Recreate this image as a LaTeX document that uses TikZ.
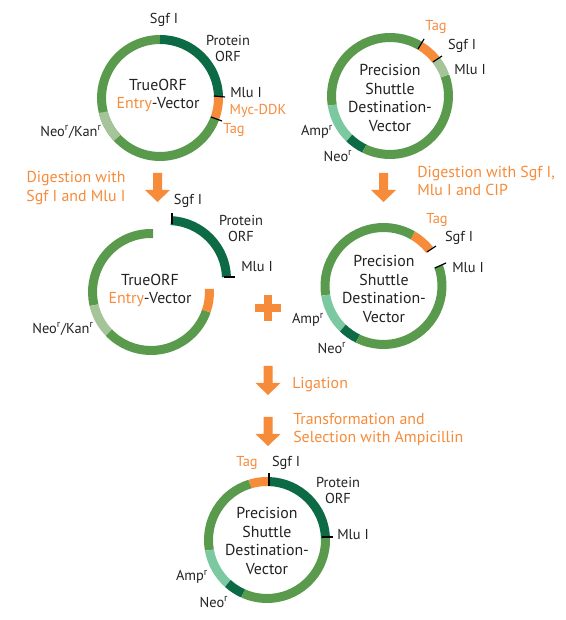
\documentclass[tikz,border=0pt]{standalone}
\usepackage{fontspec}
\setmainfont{PT Sans}
\definecolor{gmid}{HTML}{5A9A4C}
\definecolor{gdark}{HTML}{0C6B45}
\definecolor{gpale}{HTML}{A6C49A}
\definecolor{gamp}{HTML}{7CC8A0}
\definecolor{orng}{HTML}{F68B3A}
\definecolor{ink}{HTML}{222222}
\newcommand{\ringarc}[5]{\draw[ringseg,#5] ({#1+58.5*cos(#3)},{620-#2+58.5*sin(#3)}) arc[start angle=#3,end angle=#4,radius=43.875pt];}
\newcommand{\tick}[4]{\draw[tickline] (#1,620-#2) -- (#3,620-#4);}
\newcommand{\lab}[5]{\node[#4] (#1) at (#2,620-#3) {#5};}
\newcommand{\bigarrow}[3]{\fill[orng] (#1-4.5,620-#2) -- (#1+4.5,620-#2) -- (#1+4.5,620-#2-17) -- (#1+12.5,620-#2-17) -- (#1,620-#3) -- (#1-12.5,620-#2-17) -- (#1-4.5,620-#2-17) -- cycle;}
\newcommand{\rmark}{\textsuperscript{r}}
\newcommand{\orgtxt}[1]{\textcolor{orng}{#1}}
\tikzset{
  x=0.75pt,y=0.75pt,
  ringseg/.style={line width=6.75pt,line cap=butt},
  tickline/.style={draw=black,line width=0.9pt},
  blk/.style={text=ink,font=\fontsize{10.8}{12}\selectfont,align=center,inner sep=0pt},
  org/.style={text=orng,font=\fontsize{10.8}{12}\selectfont,align=center,inner sep=0pt},
  ctr/.style={text=ink,font=\fontsize{11.9}{14}\selectfont,align=center,inner sep=0pt},
  stp/.style={text=orng,font=\fontsize{11.9}{14}\selectfont,align=left,inner sep=0pt,anchor=west},
}
\begin{document}
\begin{tikzpicture}
\useasboundingbox (0,0) rectangle (565,620);
% ring 1
\ringarc{160}{98}{-20}{-166}{gmid}
\ringarc{160}{98}{194}{223}{gpale}
\ringarc{160}{98}{90}{194}{gmid}
\ringarc{160}{98}{90}{1}{gdark}
\ringarc{160}{98}{1}{-20}{orng}
\tick{214}{96}{225}{97}
\tick{211}{117}{222}{121}
\lab{a1}{164}{20}{blk}{Sgf I}
\lab{a2}{228}{48}{blk}{Protein\\ORF}
\lab{a3}{246}{93}{blk}{Mlu I}
\lab{a4}{258}{111}{org}{Myc-DDK}
\lab{a5}{234}{130}{org}{Tag}
\lab{a6}{71}{132}{blk}{Neo\rmark/Kan\rmark}
\lab{a7}{158}{95.5}{ctr}{TrueORF\\\orgtxt{Entry}-Vector}
% ring 2
\ringarc{390}{96}{59}{189}{gmid}
\ringarc{390}{96}{189}{226}{gamp}
\ringarc{390}{96}{226}{244}{gdark}
\ringarc{390}{96}{244}{380}{gmid}
\ringarc{390}{96}{59}{38}{orng}
\ringarc{390}{96}{38}{20}{gpale}
\tick{418}{49}{424}{39}
\tick{433}{62}{442}{56}
\lab{b1}{436}{27}{org}{Tag}
\lab{b2}{462}{46}{blk}{Sgf I}
\lab{b3}{470}{70}{blk}{Mlu I}
\lab{b4}{390}{98}{ctr}{Precision\\Shuttle\\Destination-\\Vector}
\lab{b5}{317}{132}{blk}{Amp\rmark}
\lab{b6}{338}{156}{blk}{Neo\rmark}
\lab{b7}{417}{181}{stp}{Digestion with Sgf I,\\Mlu I and CIP}
% arrows row 1
\bigarrow{157.5}{173}{202}
\bigarrow{383.5}{173}{202}
\lab{s1}{76}{188}{org,font=\fontsize{11.9}{14}\selectfont}{Digestion with\\Sgf I and Mlu I}
% ring 3
\ringarc{151}{292}{88}{193}{gmid}
\ringarc{151}{292}{193}{224}{gpale}
\ringarc{151}{292}{224}{341}{gmid}
\ringarc{151}{292}{341}{363}{orng}
\ringarc{168}{279}{87}{2}{gdark}
\tick{172}{213}{172}{224}
\tick{224}{277}{235}{277}
\lab{c1}{188}{201}{blk}{Sgf I}
\lab{c2}{241}{228}{blk}{Protein\\ORF}
\lab{c3}{257}{267}{blk}{Mlu I}
\lab{c4}{150}{290.5}{ctr}{TrueORF\\\orgtxt{Entry}-Vector}
\lab{c5}{63}{329}{blk}{Neo\rmark/Kan\rmark}
% plus
\fill[orng] (255,620-304) rectangle (281,620-312);
\fill[orng] (264,620-295) rectangle (272,620-321);
% ring 4
\ringarc{383.5}{286}{60}{38}{orng}
\ringarc{383.5}{286}{60}{189}{gmid}
\ringarc{383.5}{286}{189}{226}{gamp}
\ringarc{383.5}{286}{226}{244}{gdark}
\ringarc{383.5}{286}{244}{380}{gmid}
\tick{427}{252}{436}{246}
\tick{435}{268}{446}{263}
\lab{d1}{437}{220}{org}{Tag}
\lab{d2}{459}{238}{blk}{Sgf I}
\lab{d3}{468}{268}{blk}{Mlu I}
\lab{d4}{384}{289}{ctr}{Precision\\Shuttle\\Destination-\\Vector}
\lab{d5}{308}{320}{blk}{Amp\rmark}
\lab{d6}{332}{348}{blk}{Neo\rmark}
% arrows lower
\bigarrow{268}{366}{395}
\bigarrow{268}{417}{446}
\lab{e1}{292}{385}{stp}{Ligation}
\lab{e2}{293}{429.5}{stp}{Transformation and\\Selection with Ampicillin}
% ring 5
\ringarc{267}{540}{88}{107}{orng}
\ringarc{267}{540}{107}{190}{gmid}
\ringarc{267}{540}{190}{228}{gamp}
\ringarc{267}{540}{228}{246}{gdark}
\ringarc{267}{540}{246}{362}{gmid}
\ringarc{267}{540}{88}{2}{gdark}
\tick{269}{473}{269}{486}
\tick{322}{537}{333}{537}
\lab{f1}{247}{463}{org}{Tag}
\lab{f2}{286}{463}{blk}{Sgf I}
\lab{f3}{338}{490}{blk}{Protein\\ORF}
\lab{f4}{353}{535}{blk}{Mlu I}
\lab{f5}{267}{541}{ctr}{Precision\\Shuttle\\Destination-\\Vector}
\lab{f6}{192}{577}{blk}{Amp\rmark}
\lab{f7}{214}{602}{blk}{Neo\rmark}
\end{tikzpicture}
\end{document}
